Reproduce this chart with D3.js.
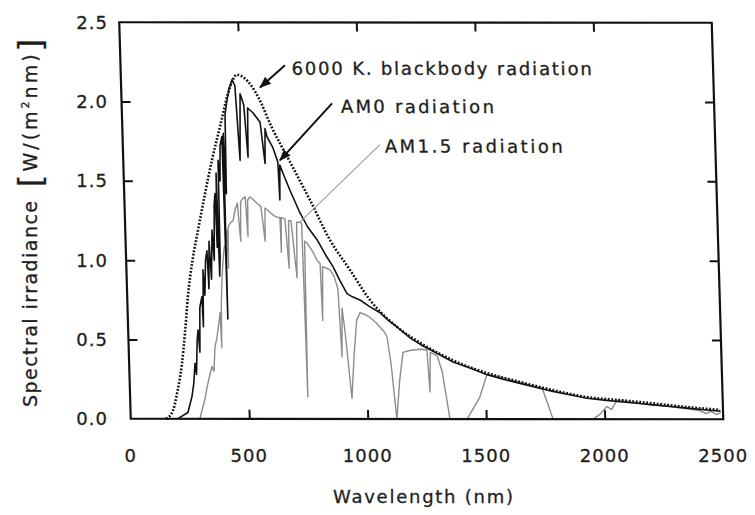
<!DOCTYPE html>
<html>
<head>
<meta charset="utf-8">
<script src="https://cdn.jsdelivr.net/npm/d3@7"></script>
<style>
  body { margin: 0; background: #fff; }
  svg text { font-family: "DejaVu Sans", Verdana, sans-serif; fill: #1e1e1e; stroke: #1e1e1e; stroke-width: 0.3; }
</style>
</head>
<body>
<div id="draw_svg"></div>
<script>
// 6000 K blackbody curve
const bbWave = [150, 180, 200, 223, 240, 256, 280, 307, 341, 374, 412, 450, 470, 490, 520, 550, 580, 630, 700, 783,
    862, 943, 1024, 1135, 1242, 1367, 1509, 1647, 1785, 1928, 2066, 2205, 2348, 2487];
const bbIrr = [0, 0.055, 0.17, 0.35, 0.55, 0.77, 1.0, 1.19, 1.42, 1.63, 1.84, 2.05, 2.13, 2.17, 2.15, 2.10, 2.02, 1.84, 1.63, 1.38,
    1.13, 0.94, 0.75, 0.58, 0.47, 0.37, 0.29, 0.234, 0.183, 0.139, 0.12, 0.10, 0.077, 0.059];

// AM0 spectrum
const am0Wave = [199, 220, 242, 261, 270, 278, 283, 290, 295, 300, 305, 315, 318, 323, 328, 335, 342, 346, 352, 358,
    366, 372, 378, 383, 386, 390, 393, 397, 400, 406, 410, 419, 422, 425, 431, 435, 445, 455, 469, 480,
    493, 501, 515, 527, 531, 553, 582, 598, 602, 609, 633, 652, 656, 660, 672, 700, 739, 770, 808, 840,
    872, 900, 928, 950, 982, 1020, 1065, 1100, 1135, 1190, 1242, 1300, 1367, 1440, 1509, 1580, 1647, 1720, 1785, 1860,
    1928, 2000, 2066, 2140, 2205, 2280, 2348, 2420, 2490];
const am0Irr = [0, 0.02, 0.04, 0.14, 0.22, 0.35, 0.28, 0.5, 0.56, 0.42, 0.70, 0.77, 0.58, 0.94, 0.78, 1.0, 1.06, 0.82, 1.12, 0.88,
    1.19, 1.0, 1.35, 1.42, 1.08, 1.55, 0.9, 1.02, 1.63, 1.5, 1.72, 1.78, 0.63, 1.80, 1.42, 1.92, 2.01, 2.08, 2.14, 2.10,
    1.63, 2.05, 1.98, 1.65, 1.96, 1.93, 1.87, 1.61, 1.83, 1.78, 1.71, 1.62, 1.38, 1.60, 1.55, 1.44, 1.30, 1.21, 1.13, 1.04,
    0.96, 0.87, 0.79, 0.77, 0.75, 0.71, 0.67, 0.62, 0.58, 0.51, 0.46, 0.415, 0.36, 0.32, 0.28, 0.25, 0.225, 0.198, 0.175, 0.152,
    0.132, 0.12, 0.11, 0.10, 0.09, 0.08, 0.07, 0.06, 0.05];

// AM1.5 spectrum
const am15Wave = [292, 302, 315, 326, 338, 349, 357, 364, 372, 379, 385, 390, 393, 396, 402, 406, 409, 415, 422, 428,
    431, 434, 438, 447, 456, 466, 476, 486, 490, 500, 510, 517, 520, 530, 545, 559, 575, 589, 592, 600,
    615, 630, 645, 654, 656, 659, 675, 687, 690, 700, 719, 724, 738, 745, 750, 755, 765, 790, 805, 818,
    822, 828, 845, 859, 875, 890, 899, 905, 915, 936, 950, 965, 980, 1000, 1022, 1045, 1063, 1080, 1091, 1105,
    1123, 1140, 1157, 1180, 1199, 1230, 1258, 1266, 1272, 1300, 1320, 1347, 1419, 1440, 1476, 1490, 1508, 1550, 1600, 1650,
    1700, 1740, 1782, 1951, 1980, 2011, 2030, 2054, 2100, 2150, 2200, 2250, 2300, 2350, 2400, 2430, 2450, 2470, 2490];
const am15Irr = [0, 0.055, 0.12, 0.20, 0.27, 0.33, 0.30, 0.45, 0.50, 0.56, 0.62, 0.67, 0.45, 0.72, 0.875, 0.95, 1.0, 1.08, 1.1, 1.19,
    0.95, 1.2, 1.22, 1.24, 1.25, 1.32, 1.36, 1.12, 1.37, 1.39, 1.40, 1.15, 1.38, 1.40, 1.38, 1.36, 1.34, 1.12, 1.33, 1.32,
    1.30, 1.28, 1.27, 1.27, 1.05, 1.27, 1.26, 0.95, 1.25, 1.25, 0.89, 1.24, 1.24, 1.23, 0.14, 1.12, 1.11, 1.05, 1.0, 0.98,
    0.62, 0.96, 0.95, 0.94, 0.90, 0.82, 0.39, 0.70, 0.55, 0.13, 0.40, 0.62, 0.67, 0.66, 0.64, 0.61, 0.58, 0.55, 0.52, 0.35,
    0, 0.25, 0.42, 0.43, 0.435, 0.44, 0.435, 0.17, 0.42, 0.40, 0.30, 0, 0, 0.05, 0.14, 0.2, 0.28, 0.27, 0.25, 0.23,
    0.21, 0.195, 0, 0, 0.03, 0.08, 0.06, 0.12, 0.11, 0.10, 0.09, 0.085, 0.075, 0.065, 0.055, 0.035, 0.05, 0.03, 0.04];

const xTicks = [0, 500, 1000, 1500, 2000, 2500];
const yTicks = [0, 0.5, 1.0, 1.5, 2.0, 2.5];
const xTickLabels = ["0", "500", "1000", "1500", "2000", "2500"];
const yTickLabels = ["0.0", "0.5", "1.0", "1.5", "2.0", "2.5"];
const curveNames = ["6000 K. blackbody radiation", "AM0 radiation", "AM1.5 radiation"];

/**
 * 画布与绘图区（扫描件略有倾斜，用仿射矩阵近似）
 */
const W = 592.5, H = 396.5;
const M = {a: 1, b: 0.000844, c: 0.029, d: 1, e: 119.25, f: 22.25};
const proj = (x, y) => [M.a * x + M.c * y + M.e, M.b * x + M.d * y + M.f];

const xScale = d3.scaleLinear().domain([0, 2500]).range([0, W]);
const yScale = d3.scaleLinear().domain([0, 2.5]).range([H, 0]);

toPoints = (wave, irr) => wave.map((w, i) => [w, irr[i]]);

drawPlot = (svg) => {
    const g = svg.append('g')
        .attr('transform', `matrix(${M.a},${M.b},${M.c},${M.d},${M.e},${M.f})`);

    const defs = svg.append('defs');
    defs.append('marker')
        .attr('id', 'arrow')
        .attr('markerUnits', 'userSpaceOnUse')
        .attr('markerWidth', 12).attr('markerHeight', 9)
        .attr('refX', 11).attr('refY', 4.5)
        .attr('orient', 'auto')
        .append('path')
        .attr('d', 'M0,0 L12,4.5 L0,9 z')
        .attr('fill', '#111');

    const line = d3.line()
        .x(d => xScale(d[0]))
        .y(d => yScale(d[1]));

    // AM1.5
    g.append('path')
        .datum(toPoints(am15Wave, am15Irr))
        .attr('d', line)
        .attr('fill', 'none')
        .attr('stroke', '#8c8c8c')
        .attr('stroke-width', 1.4)
        .attr('stroke-linejoin', 'round');

    // AM0
    g.append('path')
        .datum(toPoints(am0Wave, am0Irr))
        .attr('d', line)
        .attr('fill', 'none')
        .attr('stroke', '#111')
        .attr('stroke-width', 1.6)
        .attr('stroke-linejoin', 'round');

    // 黑体
    g.append('path')
        .datum(toPoints(bbWave, bbIrr))
        .attr('d', line.curve(d3.curveMonotoneX))
        .attr('fill', 'none')
        .attr('stroke', '#111')
        .attr('stroke-width', 2.6)
        .attr('stroke-dasharray', '1.8,1.7');

    // 坐标框与内向刻度
    g.append('rect')
        .attr('x', 0).attr('y', 0)
        .attr('width', W).attr('height', H)
        .attr('fill', 'none')
        .attr('stroke', '#111')
        .attr('stroke-width', 2.2);

    const tickAxis = (axis, scale, ticks, tr) => {
        const a = g.append('g')
            .attr('transform', tr)
            .call(axis(scale).tickValues(ticks).tickSize(-9).tickFormat(''));
        a.select('.domain').remove();
        a.selectAll('line').attr('stroke', '#111').attr('stroke-width', 2);
    };
    tickAxis(d3.axisBottom, xScale, xTicks.slice(1, -1), `translate(0,${H})`);
    tickAxis(d3.axisTop, xScale, xTicks.slice(1, -1), 'translate(0,0)');
    tickAxis(d3.axisLeft, yScale, yTicks.slice(1, -1), 'translate(0,0)');
    tickAxis(d3.axisRight, yScale, yTicks.slice(1, -1), `translate(${W},0)`);

    // 注释与箭头
    const ann = [
        {text: curveNames[0], at: [722, 2.17], len: 300, from: [694, 2.23], to: [586, 2.09], color: '#111', w: 2, arrow: true},
        {text: curveNames[1], at: [925, 1.93], len: 153, from: [888, 1.99], to: [661, 1.63], color: '#111', w: 2, arrow: true},
        {text: curveNames[2], at: [1105, 1.68], len: 178, from: [1085, 1.73], to: [738, 1.24], color: '#9a9a9a', w: 1, arrow: false}
    ];
    ann.forEach(a => {
        const l = g.append('line')
            .attr('x1', xScale(a.from[0])).attr('y1', yScale(a.from[1]))
            .attr('x2', xScale(a.to[0])).attr('y2', yScale(a.to[1]))
            .attr('stroke', a.color)
            .attr('stroke-width', a.w);
        if (a.arrow) l.attr('marker-end', 'url(#arrow)');
        g.append('text')
            .attr('x', xScale(a.at[0])).attr('y', yScale(a.at[1]))
            .attr('font-size', 18)
            .attr('textLength', a.len)
            .attr('lengthAdjust', 'spacing')
            .text(a.text);
    });
}

drawAxesText = (svg) => {
    svg.append('g').selectAll('text')
        .data(yTicks)
        .enter()
        .append('text')
        .attr('x', 108)
        .attr('y', (d) => proj(0, yScale(d))[1])
        .attr('dy', '0.36em')
        .attr('text-anchor', 'end')
        .attr('font-size', 18)
        .attr('letter-spacing', 1)
        .text((d, i) => yTickLabels[i]);

    svg.append('g').selectAll('text')
        .data(xTicks)
        .enter()
        .append('text')
        .attr('x', (d) => proj(xScale(d), H)[0])
        .attr('y', 462)
        .attr('text-anchor', 'middle')
        .attr('font-size', 18)
        .attr('letter-spacing', 1)
        .text((d, i) => xTickLabels[i]);

    svg.append('text')
        .attr('x', 333).attr('y', 503)
        .attr('font-size', 18)
        .attr('textLength', 180)
        .attr('lengthAdjust', 'spacing')
        .text('Wavelength (nm)');

    svg.append('text')
        .attr('transform', 'translate(37,407) rotate(-90)')
        .attr('font-size', 19)
        .attr('textLength', 206)
        .attr('lengthAdjust', 'spacing')
        .text('Spectral irradiance');

    const unit = svg.append('text')
        .attr('transform', 'translate(37,187) rotate(-90)')
        .attr('font-size', 19)
        .attr('letter-spacing', 3);
    unit.append('tspan').attr('font-size', 32).attr('dy', 4).text('[');
    unit.append('tspan').attr('dy', -4).text('W/(m');
    unit.append('tspan').attr('font-size', 11).attr('dy', -8).text('2');
    unit.append('tspan').attr('dy', 8).text('nm)');
    unit.append('tspan').attr('font-size', 32).attr('dy', 4).text(']');
}

pageInit = () => {
    const svg = d3.select('#draw_svg')
        .append('svg')
        .attr('width', 755)
        .attr('height', 515);

    drawPlot(svg);
    drawAxesText(svg);
}

window.onload = () => {
    pageInit();
}
</script>
</body>
</html>
